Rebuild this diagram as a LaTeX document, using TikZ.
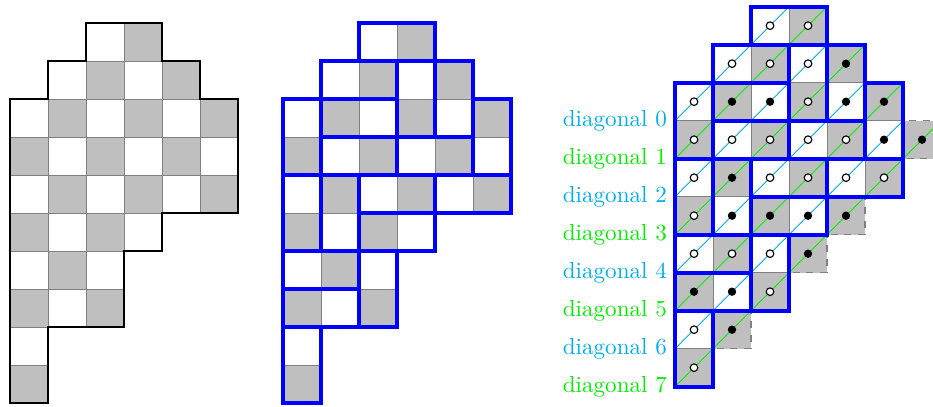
\documentclass[tikz,border=0pt]{standalone}
\usetikzlibrary{calc}
\usepackage{xcolor}
\definecolor{diagcyan}{RGB}{0,174,239}
\definecolor{diaggreen}{RGB}{0,240,0}

\tikzset{
  whitesq/.style={fill=white, draw=gray, line width=0.4pt},
  graysq/.style={fill=lightgray, draw=gray, line width=0.4pt},
  extrasq/.style={fill=lightgray, draw=gray, dashed, line width=0.5pt},
  boundary/.style={draw=black, line width=0.85pt},
  domino/.style={draw=blue, line width=1.6pt},
  opendot/.style={draw=black, fill=white, line width=0.5pt},
  fulldot/.style={fill=black},
}

% rows of the region: row/first column/last column
\newcommand{\regionrows}{0/2/3,1/1/4,2/0/5,3/0/5,4/0/5,5/0/3,6/0/2,7/0/2,8/0/0,9/0/0}

\newcommand{\checkerboard}{%
  \foreach \r/\a/\b in \regionrows {
    \foreach \c in {\a,...,\b} {
      \pgfmathtruncatemacro{\odd}{mod(\r+\c,2)}
      \ifnum\odd=1
        \draw[graysq] (\c,-\r) rectangle ++(1,-1);
      \else
        \draw[whitesq] (\c,-\r) rectangle ++(1,-1);
      \fi
    }
  }
}

\newcommand{\drawoutline}{%
  \draw[boundary] (2,0) -- (4,0) -- (4,-1) -- (5,-1) -- (5,-2) -- (6,-2)
    -- (6,-5) -- (4,-5) -- (4,-6) -- (3,-6) -- (3,-8) -- (1,-8) -- (1,-10)
    -- (0,-10) -- (0,-2) -- (1,-2) -- (1,-1) -- (2,-1) -- cycle;
}

\newcommand{\drawdominoes}{%
  \foreach \xa/\ya/\xb/\yb in {2/0/4/-1, 1/-1/3/-2, 3/-1/4/-3, 4/-1/5/-3,
      0/-2/1/-4, 1/-2/3/-3, 5/-2/6/-4, 1/-3/3/-4, 3/-3/5/-4,
      0/-4/1/-6, 1/-4/2/-6, 2/-4/4/-5, 4/-4/6/-5, 2/-5/4/-6,
      0/-6/2/-7, 2/-6/3/-8, 0/-7/2/-8, 0/-8/1/-10}
    \draw[domino] (\xa,\ya) rectangle (\xb,\yb);
}

\begin{document}
\begin{tikzpicture}[x=0.578cm, y=0.578cm]
  \useasboundingbox (-0.263,0.613) rectangle (24.289,-10.071);

  % plain region
  \checkerboard
  \drawoutline

  % region with its domino tiling
  \begin{scope}[shift={(7.19,0)}]
    \checkerboard
    \drawoutline
    \drawdominoes
  \end{scope}

  % tiling read along the diagonals
  \begin{scope}[shift={(17.5,0.437)}]
    \foreach \r/\c in {3/6, 5/4, 6/3, 8/1}
      \draw[extrasq] (\c,-\r) rectangle ++(1,-1);
    \checkerboard
    % diagonals through every square
    \foreach \r/\a/\b in \regionrows {
      \foreach \c in {\a,...,\b} {
        \pgfmathtruncatemacro{\odd}{mod(\r+\c,2)}
        \ifnum\odd=1
          \draw[diaggreen, line width=0.4pt] (\c,-\r-1) -- ++(1,1);
        \else
          \draw[diagcyan, line width=0.4pt] (\c,-\r-1) -- ++(1,1);
        \fi
      }
    }
    \foreach \r/\c in {3/6, 5/4, 6/3, 8/1}
      \draw[diaggreen, line width=0.4pt] (\c,-\r-1) -- ++(1,1);
    % dots
    \foreach \r/\c in {0/2, 0/3, 1/1, 1/2, 1/3, 2/0, 2/3, 3/0, 3/1, 3/2, 3/3,
        3/4, 4/0, 4/2, 4/3, 4/4, 4/5, 5/0, 6/0, 6/1, 6/2, 7/2, 8/0, 9/0}
      \draw[opendot] (\c+0.5,-\r-0.5) circle (0.1);
    \foreach \r/\c in {1/4, 2/1, 2/2, 2/4, 2/5, 3/5, 3/6, 4/1, 5/1, 5/2, 5/3,
        5/4, 6/3, 7/0, 7/1, 8/1}
      \fill[fulldot] (\c+0.5,-\r-0.5) circle (0.11);
    \drawoutline
    \drawdominoes
    % labels
    \foreach \k in {0,...,7} {
      \ifodd\k
        \node[anchor=east, text=diaggreen] (diag\k) at (0,-\k-3) {diagonal \k};
      \else
        \node[anchor=east, text=diagcyan] (diag\k) at (0,-\k-3) {diagonal \k};
      \fi
    }
  \end{scope}
\end{tikzpicture}
\end{document}
